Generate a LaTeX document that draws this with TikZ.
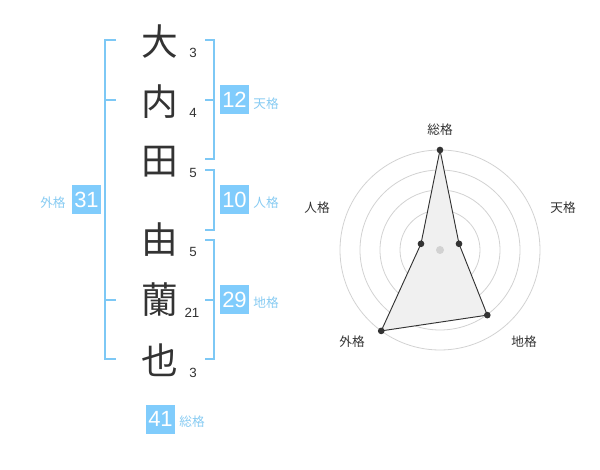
\documentclass[tikz,border=0pt]{standalone}
\usepackage{fontspec}
\usetikzlibrary{calc}
\setmainfont{Liberation Sans}
\newfontfamily\jpfont{Noto Sans CJK JP}
\definecolor{bluebox}{RGB}{128,204,252}
\definecolor{bluetxt}{RGB}{135,203,242}
\definecolor{bluebr}{RGB}{125,200,245}
\definecolor{ink}{RGB}{51,51,51}
\definecolor{ringc}{RGB}{210,210,210}
\definecolor{fillc}{RGB}{240,240,240}
\tikzset{
  kanji/.style={font=\jpfont\fontsize{27.5}{27.5}\selectfont, text=ink, inner sep=0pt},
  strokes/.style={font=\fontsize{10}{10}\selectfont, text=ink, inner sep=0pt},
  numbox/.style={fill=bluebox, text=white, minimum width=21.75pt, minimum height=21.75pt, inner sep=0pt, font=\fontsize{16.5}{16.5}\selectfont},
  kaku/.style={font=\jpfont\fontsize{9.5}{9.5}\selectfont, text=bluetxt, inner sep=0pt},
  bracket/.style={draw=bluebr, line width=1.5pt},
  ring/.style={draw=ringc, line width=0.6pt},
  rlabel/.style={font=\jpfont\fontsize{9.5}{9.5}\selectfont, text=ink, inner sep=0pt},
  dot/.style={circle, fill=ink, inner sep=0pt, minimum size=5pt},
}
\begin{document}
\begin{tikzpicture}[x=0.75pt, y=-0.75pt]
\useasboundingbox (0,0) rectangle (600,470);
% characters
\node[kanji] (k1) at (160,42) {大};
\node[kanji] (k2) at (160,102) {内};
\node[kanji] (k3) at (160,162) {田};
\node[kanji] (k4) at (160,240) {由};
\node[kanji] (k5) at (160,300) {蘭};
\node[kanji] (k6) at (160,360) {也};
% stroke counts
\node[strokes] (s1) at (193,53) {3};
\node[strokes] (s2) at (193,113) {4};
\node[strokes] (s3) at (193,173) {5};
\node[strokes] (s4) at (193,252) {5};
\node[strokes] (s5) at (192,313) {21};
\node[strokes] (s6) at (193,373) {3};
% left bracket (gaikaku)
\draw[bracket] (116,40) -- (105,40) -- (105,359) -- (116,359);
\draw[bracket] (105,100) -- (116,100);
\draw[bracket] (105,300) -- (116,300);
% right brackets
\draw[bracket] (205,40) -- (214,40) -- (214,159) -- (205,159);
\draw[bracket] (214,100) -- (205,100);
\draw[bracket] (205,170) -- (214,170) -- (214,230) -- (205,230);
\draw[bracket] (205,240) -- (214,240) -- (214,359) -- (205,359);
\draw[bracket] (214,300) -- (205,300);
% number boxes
\node[numbox] (b31) at (86.5,200) {31};
\node[kaku] (l31) at (53,203) {外格};
\node[numbox] (b12) at (234.5,100) {12};
\node[kaku] (l12) at (266,104) {天格};
\node[numbox] (b10) at (234.5,200) {10};
\node[kaku] (l10) at (266,203) {人格};
\node[numbox] (b29) at (234.5,300) {29};
\node[kaku] (l29) at (266,303) {地格};
\node[numbox] (b41) at (160.5,419) {41};
\node[kaku] (l41) at (192,422) {総格};
% radar
\coordinate (c) at (440,250);
\foreach \r in {20,40,60,80,100} \draw[ring] (c) circle[radius=\r];
\coordinate (p1) at ($(c)+(-90:100)$);
\coordinate (p2) at ($(c)+(-18:20)$);
\coordinate (p3) at ($(c)+(54:80.5)$);
\coordinate (p4) at ($(c)+(126:100)$);
\coordinate (p5) at ($(c)+(-162:20)$);
\draw[fill=fillc, draw=ink, line width=0.7pt] (p1) -- (p2) -- (p3) -- (p4) -- (p5) -- cycle;
\node[circle, fill=ringc, inner sep=0pt, minimum size=6pt] (cd) at (c) {};
\foreach \p in {p1,p2,p3,p4,p5} \node[dot] (d\p) at (\p) {};
\node[rlabel] (r1) at (440,130) {総格};
\node[rlabel] (r2) at (563,208) {天格};
\node[rlabel] (r3) at (317,208) {人格};
\node[rlabel] (r4) at (352,342) {外格};
\node[rlabel] (r5) at (524,342) {地格};
\end{tikzpicture}
\end{document}
